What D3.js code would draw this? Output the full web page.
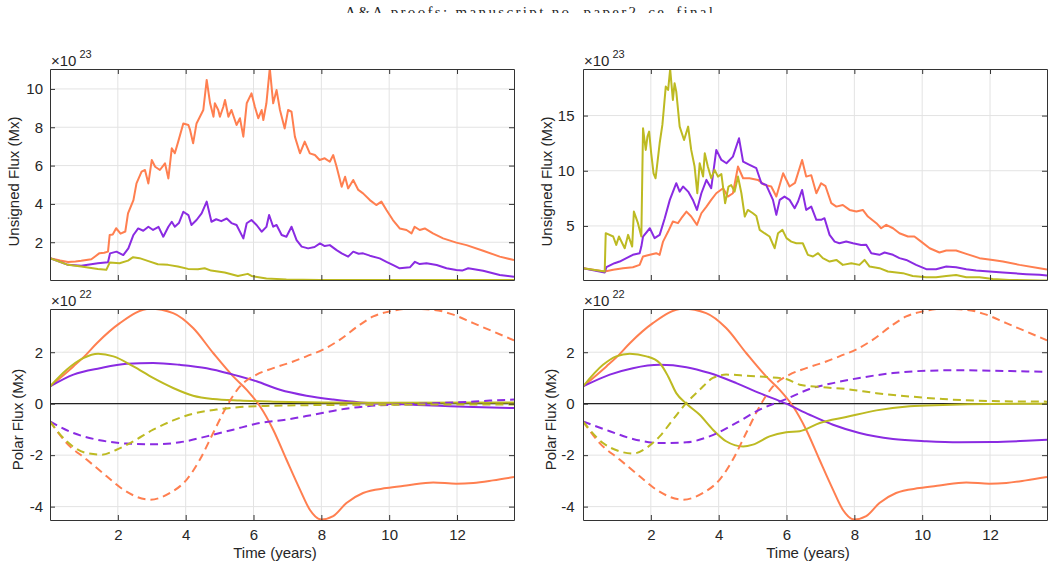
<!DOCTYPE html>
<html>
<head>
<meta charset="utf-8">
<script src="https://cdn.jsdelivr.net/npm/d3@7"></script>
<style>
  body { margin: 0; background: #fff; }
  svg text { font-family: "Liberation Sans", Arial, Helvetica, sans-serif; fill: #262626; }
</style>
</head>
<body>
<div id="chart"></div>
<script>
const width = 1054;
const height = 569;

const headerText = "A&A proofs: manuscript no. paper2_ce_final";

// tick values
const xTicks = [2, 4, 6, 8, 10, 12];
const unsignedTicksLeft = [2, 4, 6, 8, 10];
const unsignedTicksRight = [5, 10, 15];
const polarTicks = [-4, -2, 0, 2];

// unsigned flux, left column, units of 1e23 Mx  [years, value]
const uLeftOrange = [[0,1.17],[0.3,1.05],[0.53,0.97],[0.75,1.0],[0.92,1.03],[1.22,1.11],[1.46,1.43],[1.6,1.45],[1.71,1.51],[1.76,2.38],[1.85,2.4],[1.95,2.73],[2.08,2.45],[2.22,2.56],[2.3,3.51],[2.46,4.2],[2.55,5.07],[2.7,5.68],[2.8,5.77],[2.9,5.07],[3.0,6.29],[3.1,5.94],[3.24,5.77],[3.39,6.12],[3.49,5.33],[3.59,6.9],[3.68,6.64],[3.78,7.25],[3.93,8.2],[4.08,8.12],[4.13,7.86],[4.22,7.16],[4.32,8.2],[4.42,8.55],[4.52,8.9],[4.62,10.47],[4.72,9.25],[4.82,8.55],[4.86,9.25],[4.96,8.9],[5.01,8.55],[5.11,9.07],[5.16,9.42],[5.26,8.55],[5.35,8.9],[5.5,8.12],[5.6,8.47],[5.7,7.51],[5.8,9.25],[5.94,9.77],[6.04,9.07],[6.14,8.47],[6.24,8.9],[6.29,8.38],[6.38,9.25],[6.48,11.08],[6.58,9.25],[6.68,9.94],[6.78,8.9],[6.92,7.94],[7.02,8.9],[7.12,8.81],[7.22,7.51],[7.37,6.64],[7.51,7.25],[7.66,6.64],[7.81,6.55],[7.95,6.29],[8.1,6.38],[8.25,6.2],[8.35,6.55],[8.45,5.94],[8.6,4.9],[8.7,5.42],[8.79,4.81],[8.94,5.25],[9.09,4.73],[9.23,4.55],[9.43,4.2],[9.62,3.94],[9.77,4.12],[9.92,3.68],[10.11,3.16],[10.31,2.72],[10.51,2.64],[10.66,2.46],[10.75,2.81],[10.9,2.64],[11.05,2.72],[11.29,2.46],[11.59,2.2],[11.98,1.98],[12.28,1.85],[12.77,1.56],[13.26,1.25],[13.68,1.07]];
const uLeftPurple = [[0,1.17],[0.53,0.82],[0.92,0.77],[1.41,0.9],[1.71,0.96],[1.77,1.42],[1.96,1.51],[2.16,1.33],[2.31,1.68],[2.46,2.38],[2.6,2.72],[2.75,2.6],[2.9,2.81],[3.04,2.64],[3.2,2.8],[3.34,2.29],[3.49,2.81],[3.59,3.07],[3.68,2.81],[3.8,3.0],[3.93,3.59],[4.08,3.42],[4.17,2.9],[4.32,3.16],[4.47,3.51],[4.62,4.12],[4.76,3.07],[4.9,3.2],[5.05,3.1],[5.21,3.24],[5.35,3.0],[5.5,2.9],[5.7,2.2],[5.8,2.99],[5.94,3.16],[6.09,2.9],[6.24,2.55],[6.38,2.8],[6.46,3.42],[6.58,2.81],[6.68,2.9],[6.83,2.38],[6.97,2.29],[7.12,2.81],[7.27,2.11],[7.42,1.77],[7.61,1.68],[7.8,1.75],[7.96,1.94],[8.1,1.8],[8.25,1.85],[8.45,1.59],[8.6,1.42],[8.79,1.25],[8.94,1.51],[9.1,1.4],[9.23,1.42],[9.43,1.3],[9.72,1.16],[9.92,0.98],[10.12,0.81],[10.31,0.64],[10.61,0.69],[10.76,0.98],[10.9,0.86],[11.1,0.9],[11.4,0.81],[11.69,0.64],[11.98,0.55],[12.15,0.52],[12.33,0.64],[12.77,0.51],[13.26,0.29],[13.68,0.2]];
const uLeftYellow = [[0,1.17],[0.53,0.82],[0.92,0.73],[1.41,0.61],[1.66,0.56],[1.76,0.94],[2.05,0.9],[2.3,1.04],[2.45,1.22],[2.64,1.17],[2.88,1.03],[3.18,0.85],[3.48,0.82],[3.77,0.73],[4.07,0.61],[4.36,0.59],[4.56,0.64],[4.75,0.52],[5.15,0.42],[5.54,0.24],[5.83,0.35],[5.94,0.24],[6.38,0.11],[6.97,0.06],[7.96,0.03],[13.68,0.03]];

// unsigned flux, right column
const uRightOrange = [[0,1.17],[0.64,0.87],[0.89,1.02],[1.18,1.17],[1.47,1.26],[1.67,1.47],[1.77,2.23],[1.97,2.38],[2.16,2.53],[2.26,2.38],[2.36,3.58],[2.51,4.49],[2.65,5.4],[2.8,5.25],[2.9,5.7],[3.05,6.3],[3.19,5.85],[3.36,5.1],[3.49,6.15],[3.64,6.75],[3.78,7.36],[3.93,7.96],[4.13,8.42],[4.27,7.66],[4.42,7.96],[4.57,10.38],[4.72,9.32],[4.91,9.32],[5.16,9.17],[5.35,8.72],[5.55,8.57],[5.7,7.66],[5.9,9.77],[6.09,8.57],[6.25,8.9],[6.46,10.98],[6.58,9.47],[6.73,9.6],[6.88,7.96],[7.02,8.87],[7.15,8.6],[7.32,7.06],[7.47,6.75],[7.66,6.9],[7.86,6.45],[8.06,6.3],[8.25,6.45],[8.4,5.85],[8.65,5.25],[8.79,4.79],[8.94,5.1],[9.14,4.79],[9.33,4.34],[9.58,4.04],[9.77,4.04],[9.97,3.58],[10.22,2.98],[10.51,2.59],[10.71,2.77],[11.0,2.77],[11.3,2.47],[11.69,2.08],[12.08,1.92],[12.38,1.77],[12.87,1.47],[13.46,1.17],[13.68,1.05]];
const uRightPurple = [[0,1.17],[0.64,0.78],[0.69,1.26],[0.93,1.62],[1.08,1.77],[1.28,2.08],[1.47,2.38],[1.67,2.53],[1.72,3.13],[1.77,4.04],[1.97,4.79],[2.11,3.89],[2.26,4.19],[2.41,5.7],[2.56,7.36],[2.75,8.87],[2.85,8.11],[2.95,8.57],[3.1,8.11],[3.24,7.36],[3.36,6.45],[3.49,7.96],[3.64,9.17],[3.78,8.42],[3.93,11.89],[4.08,10.98],[4.23,10.68],[4.42,11.28],[4.6,12.94],[4.72,10.83],[4.91,10.53],[5.11,10.23],[5.26,8.87],[5.4,8.72],[5.6,7.36],[5.7,6.0],[5.8,7.36],[5.94,7.66],[6.09,7.36],[6.24,6.6],[6.34,7.21],[6.46,8.26],[6.58,6.45],[6.73,6.75],[6.88,5.55],[7.02,5.55],[7.12,5.7],[7.27,4.19],[7.42,3.58],[7.56,3.43],[7.76,3.58],[7.96,3.43],[8.2,3.28],[8.35,3.3],[8.5,2.53],[8.74,2.38],[8.89,2.59],[9.14,2.38],[9.33,2.08],[9.53,1.92],[9.82,1.47],[10.12,1.08],[10.41,1.08],[10.71,1.32],[11.0,1.26],[11.3,1.08],[11.59,0.96],[11.98,0.87],[12.38,0.78],[13.07,0.63],[13.46,0.57],[13.68,0.5]];
const uRightYellow = [[0,1.17],[0.64,0.87],[0.67,4.34],[0.89,4.04],[0.98,3.28],[1.06,4.04],[1.23,2.98],[1.33,4.19],[1.45,3.13],[1.5,6.3],[1.62,5.25],[1.72,4.04],[1.77,13.85],[1.85,11.89],[1.9,13.1],[1.95,13.55],[2.01,11.59],[2.08,9.77],[2.14,9.32],[2.2,10.9],[2.26,12.49],[2.34,14.15],[2.38,15.51],[2.44,17.63],[2.51,17.32],[2.57,19.2],[2.65,16.42],[2.7,17.93],[2.75,17.17],[2.85,14.0],[2.98,12.79],[3.1,14.0],[3.19,11.89],[3.29,10.38],[3.37,7.96],[3.44,10.68],[3.54,9.47],[3.59,11.59],[3.68,10.38],[3.78,9.32],[3.88,10.08],[3.98,9.47],[4.08,9.7],[4.19,7.06],[4.29,8.57],[4.37,8.7],[4.47,8.11],[4.57,9.47],[4.67,7.96],[4.77,5.85],[4.86,6.45],[5.01,6.15],[5.11,5.9],[5.21,4.64],[5.35,4.34],[5.5,4.04],[5.65,2.98],[5.75,4.34],[5.88,4.64],[6.0,3.89],[6.14,3.58],[6.29,3.43],[6.48,3.43],[6.63,2.38],[6.78,2.23],[6.93,2.53],[7.07,2.08],[7.27,1.77],[7.47,1.92],[7.66,1.47],[7.91,1.62],[8.15,1.47],[8.3,1.92],[8.45,1.32],[8.74,1.17],[8.99,0.87],[9.43,0.72],[9.72,0.47],[10.12,0.35],[10.41,0.35],[10.71,0.47],[11.0,0.56],[11.3,0.35],[11.69,0.35],[12.08,0.2],[12.57,0.11],[13.46,0.05],[13.68,0.05]];

// polar flux, units of 1e22 Mx  (orange is the same in both columns)
const pOrange = [[0,0.67],[0.69,1.45],[1.0,1.82],[1.38,2.35],[2.06,3.13],[2.95,3.69],[3.63,3.52],[4.22,2.94],[4.81,1.97],[5.4,1.06],[5.8,0.54],[6.19,-0.1],[6.58,-1.01],[6.97,-2.17],[7.37,-3.34],[7.66,-4.12],[8.0,-4.5],[8.35,-4.37],[8.74,-3.86],[9.23,-3.47],[9.92,-3.28],[10.51,-3.18],[11.3,-3.06],[11.98,-3.11],[12.48,-3.08],[13.06,-2.98],[13.68,-2.85]];
const pOrangeDash = [[0,-0.69],[0.49,-1.53],[1.08,-2.17],[1.67,-2.82],[2.16,-3.34],[2.95,-3.73],[3.54,-3.47],[4.03,-2.95],[4.42,-2.17],[4.81,-1.14],[5.21,-0.1],[5.6,0.67],[6.09,1.13],[6.58,1.38],[7.17,1.64],[7.56,1.84],[8.05,2.1],[8.55,2.49],[9.14,3.07],[9.53,3.39],[10.02,3.59],[10.61,3.69],[11.3,3.65],[11.89,3.46],[12.48,3.13],[13.06,2.81],[13.68,2.46]];
const pLeftPurple = [[0,0.67],[0.69,1.13],[1.47,1.38],[2.26,1.55],[3.04,1.58],[3.83,1.51],[4.62,1.38],[5.4,1.13],[6.09,0.87],[6.78,0.54],[7.56,0.31],[8.35,0.16],[9.14,0.05],[9.92,0],[10.71,-0.04],[11.49,-0.08],[12.48,-0.13],[13.68,-0.17]];
const pLeftPurpleDash = [[0,-0.69],[0.69,-1.14],[1.47,-1.42],[2.26,-1.55],[3.04,-1.58],[3.83,-1.5],[4.62,-1.27],[5.4,-1.01],[6.19,-0.75],[6.97,-0.62],[7.76,-0.43],[8.55,-0.23],[9.33,-0.1],[10.12,-0.04],[10.91,0],[11.98,0.05],[12.97,0.12],[13.68,0.16]];
const pLeftYellow = [[0,0.67],[0.49,1.32],[0.98,1.77],[1.42,1.94],[1.87,1.84],[2.46,1.45],[3.04,1.0],[3.63,0.61],[4.22,0.31],[4.81,0.18],[5.6,0.12],[6.58,0.08],[8.05,0.05],[9.53,0.04],[13.68,0.05]];
const pLeftYellowDash = [[0,-0.69],[0.49,-1.46],[1.08,-1.92],[1.52,-1.98],[1.96,-1.79],[2.46,-1.46],[3.04,-1.01],[3.63,-0.65],[4.22,-0.39],[4.91,-0.23],[5.6,-0.13],[6.58,-0.08],[8.05,-0.05],[9.53,-0.04],[13.68,-0.03]];
const pRightPurple = [[0,0.67],[0.79,1.13],[1.47,1.38],[2.26,1.51],[3.05,1.42],[3.73,1.19],[4.52,0.8],[5.21,0.41],[5.99,0],[6.68,-0.43],[7.37,-0.82],[8.15,-1.14],[9.14,-1.37],[10.12,-1.46],[11.1,-1.5],[12.08,-1.49],[13.07,-1.44],[13.68,-1.4]];
const pRightPurpleDash = [[0,-0.69],[0.79,-1.07],[1.47,-1.37],[2.26,-1.53],[3.05,-1.5],[3.73,-1.27],[4.52,-0.75],[5.21,-0.23],[5.99,0.18],[6.68,0.57],[7.37,0.8],[8.15,1.0],[9.14,1.19],[10.12,1.28],[11.1,1.3],[12.08,1.28],[13.68,1.24]];
const pRightYellow = [[0,0.67],[0.59,1.51],[0.98,1.84],[1.38,1.94],[1.87,1.84],[2.26,1.58],[2.51,1.06],[2.75,0.41],[3.05,0],[3.44,-0.43],[3.83,-1.01],[4.22,-1.46],[4.72,-1.66],[5.01,-1.59],[5.5,-1.27],[5.99,-1.11],[6.39,-1.07],[6.98,-0.75],[7.76,-0.52],[8.65,-0.26],[9.63,-0.1],[10.61,-0.05],[12.08,-0.01],[13.68,0]];
const pRightYellowDash = [[0,-0.69],[0.59,-1.53],[1.08,-1.85],[1.47,-1.94],[1.87,-1.72],[2.26,-1.27],[2.65,-0.62],[3.05,0.03],[3.44,0.54],[3.83,1.0],[4.22,1.13],[4.81,1.09],[5.4,1.04],[5.99,0.96],[6.39,0.74],[6.98,0.65],[7.76,0.57],[8.65,0.41],[9.63,0.28],[10.61,0.18],[12.08,0.1],[13.68,0.08]];

const orange = "#ff7f50", purple = "#8a2be2", yellow = "#bdba22";
const textColor = "#262626";
const fontSize = "15px";

const svg = d3.select("#chart").append("svg")
  .attr("width", width).attr("height", height);

// page header, cut off at the top like the source
svg.append("clipPath").attr("id", "hdr").append("rect")
  .attr("x", 0).attr("y", 0).attr("width", width).attr("height", 13);
svg.append("text")
  .attr("clip-path", "url(#hdr)")
  .attr("x", 345).attr("y", 17)
  .attr("textLength", 368).attr("lengthAdjust", "spacing")
  .style("font-family", "'Liberation Serif', 'DejaVu Serif', serif")
  .style("font-size", "15px")
  .text(headerText);

const panels = [
  { id: "ul", x0: 50, x1: 514, y0: 69, y1: 280, yDom: [0.03, 11.04], yTicks: unsignedTicksLeft,
    ylab: "Unsigned Flux (Mx)", ylabX: 19, ylabDy: 7, exp: "23", xLabels: false, smooth: false, tickPad: 7,
    lines: [[uLeftOrange, orange, false], [uLeftPurple, purple, false], [uLeftYellow, yellow, false]] },
  { id: "ur", x0: 583, x1: 1047, y0: 69, y1: 280, yDom: [0.1, 19.22], yTicks: unsignedTicksRight,
    ylab: "Unsigned Flux (Mx)", ylabX: 552, ylabDy: 7, exp: "23", xLabels: false, smooth: false, tickPad: 8.5,
    lines: [[uRightOrange, orange, false], [uRightPurple, purple, false], [uRightYellow, yellow, false]] },
  { id: "pl", x0: 50, x1: 514, y0: 309, y1: 520, yDom: [-4.52, 3.68], yTicks: polarTicks,
    ylab: "Polar Flux (Mx)", ylabX: 23, ylabDy: 5, exp: "22", xLabels: true, smooth: true, tickPad: 7,
    lines: [[pOrange, orange, false], [pLeftPurple, purple, false], [pLeftYellow, yellow, false],
            [pOrangeDash, orange, true], [pLeftPurpleDash, purple, true], [pLeftYellowDash, yellow, true]] },
  { id: "pr", x0: 583, x1: 1047, y0: 309, y1: 520, yDom: [-4.52, 3.68], yTicks: polarTicks,
    ylab: "Polar Flux (Mx)", ylabX: 556, ylabDy: 5, exp: "22", xLabels: true, smooth: true, tickPad: 8.5,
    lines: [[pOrange, orange, false], [pRightPurple, purple, false], [pRightYellow, yellow, false],
            [pOrangeDash, orange, true], [pRightPurpleDash, purple, true], [pRightYellowDash, yellow, true]] }
];

panels.forEach(p => {
  const x = d3.scaleLinear().domain([0, 13.68]).range([p.x0, p.x1]);
  const y = d3.scaleLinear().domain(p.yDom).range([p.y1, p.y0]);
  const g = svg.append("g");

  // grid
  g.append("g").selectAll("line").data(xTicks).join("line")
    .attr("x1", d => x(d)).attr("x2", d => x(d))
    .attr("y1", p.y0).attr("y2", p.y1)
    .attr("stroke", "#e3e3e3").attr("stroke-width", 1);
  g.append("g").selectAll("line").data(p.yTicks).join("line")
    .attr("x1", p.x0).attr("x2", p.x1)
    .attr("y1", d => y(d)).attr("y2", d => y(d))
    .attr("stroke", "#e3e3e3").attr("stroke-width", 1);

  g.append("clipPath").attr("id", "clip-" + p.id).append("rect")
    .attr("x", p.x0).attr("y", p.y0).attr("width", p.x1 - p.x0).attr("height", p.y1 - p.y0);
  const plot = g.append("g").attr("clip-path", `url(#clip-${p.id})`);

  if (p.smooth) {
    plot.append("line")
      .attr("x1", p.x0).attr("x2", p.x1)
      .attr("y1", y(0)).attr("y2", y(0))
      .attr("stroke", "#222").attr("stroke-width", 1.2);
  }

  const line = d3.line()
    .x(d => x(d[0])).y(d => y(d[1]))
    .curve(p.smooth ? d3.curveMonotoneX : d3.curveLinear);

  plot.selectAll("path.series").data(p.lines).join("path")
    .attr("class", "series")
    .attr("fill", "none")
    .attr("stroke", d => d[1])
    .attr("stroke-width", 2)
    .attr("stroke-linejoin", "round")
    .attr("stroke-dasharray", d => d[2] ? "8,5" : null)
    .attr("d", d => line(d[0]));

  // axes, ticks pointing inward on all four sides
  const bottom = g.append("g").attr("transform", `translate(0,${p.y1})`)
    .call(d3.axisBottom(x).tickValues(xTicks).tickSize(-5).tickSizeOuter(0).tickPadding(9)
      .tickFormat(p.xLabels ? d3.format("d") : ""));
  const top = g.append("g").attr("transform", `translate(0,${p.y0})`)
    .call(d3.axisTop(x).tickValues(xTicks).tickSize(-5).tickSizeOuter(0).tickFormat(""));
  const left = g.append("g").attr("transform", `translate(${p.x0},0)`)
    .call(d3.axisLeft(y).tickValues(p.yTicks).tickSize(-5).tickSizeOuter(0).tickPadding(p.tickPad)
      .tickFormat(d3.format("d")));
  const right = g.append("g").attr("transform", `translate(${p.x1},0)`)
    .call(d3.axisRight(y).tickValues(p.yTicks).tickSize(-5).tickSizeOuter(0).tickFormat(""));

  [bottom, top, left, right].forEach(a => {
    a.select(".domain").attr("stroke", "#333");
    a.selectAll(".tick line").attr("stroke", "#333");
    a.selectAll("text").attr("fill", textColor)
      .style("font-size", fontSize).style("font-family", "'Liberation Sans', Arial, sans-serif");
  });
  left.selectAll("text").text(d => d < 0 ? "-" + Math.abs(d) : d);

  if (p.xLabels) {
    g.append("text")
      .attr("x", (p.x0 + p.x1) / 2 - 7).attr("y", 558)
      .attr("text-anchor", "middle").style("font-size", fontSize)
      .text("Time (years)");
  }

  g.append("text")
    .attr("transform", `translate(${p.ylabX},${(p.y0 + p.y1) / 2 + p.ylabDy}) rotate(-90)`)
    .attr("text-anchor", "middle").style("font-size", fontSize)
    .text(p.ylab);

  // exponent label
  const ex = g.append("text").attr("x", p.x0 + 1).attr("y", p.y0 - 3.5).style("font-size", "15px");
  ex.append("tspan").text("×10");
  ex.append("tspan").attr("dx", 3).attr("dy", -8).style("font-size", "11px").text(p.exp);
});
</script>
</body>
</html>
